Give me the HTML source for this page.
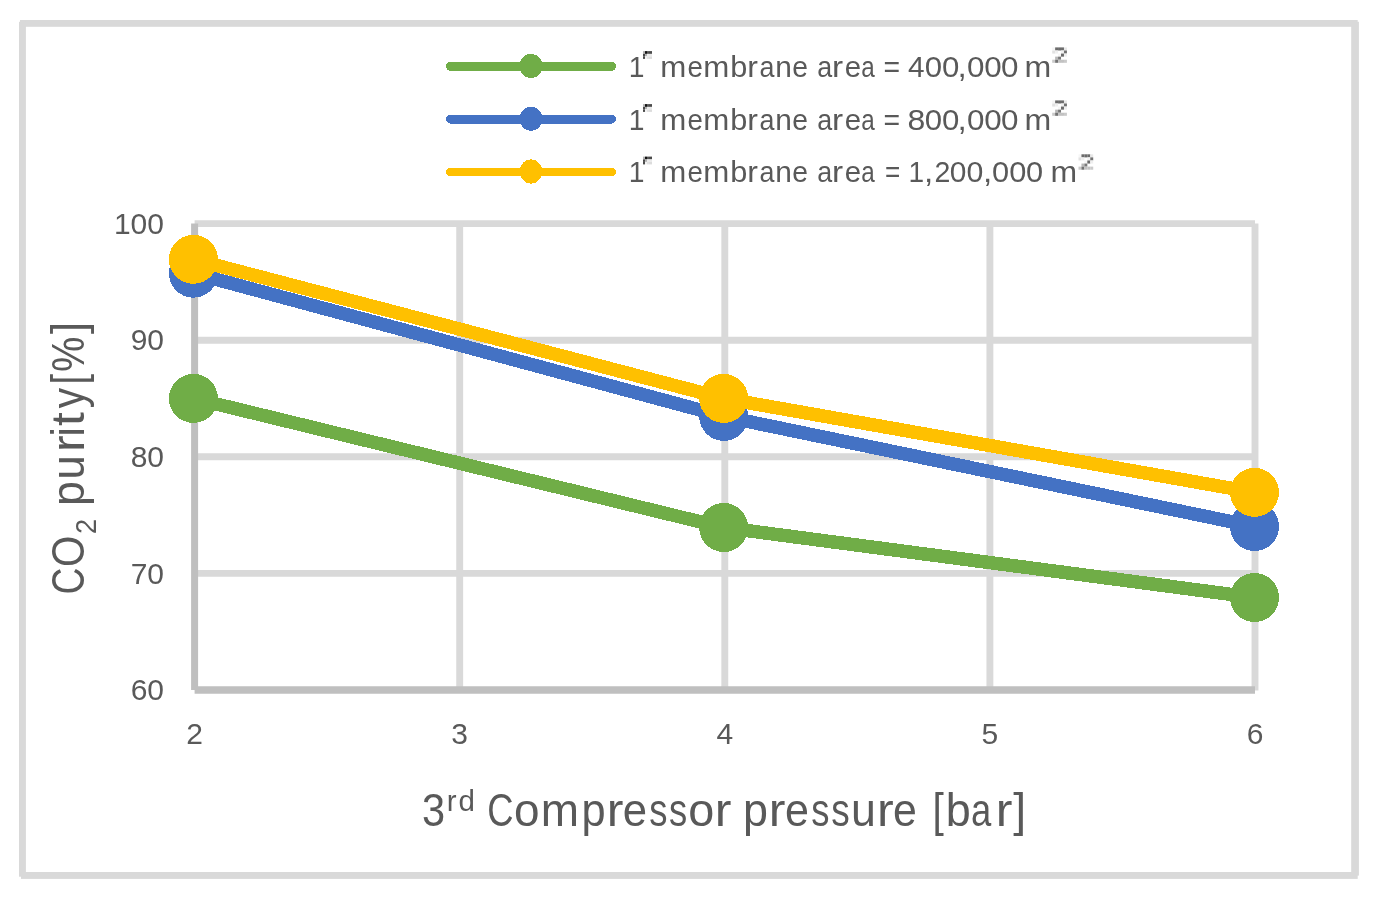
<!DOCTYPE html>
<html><head><meta charset="utf-8"><style>
html,body{margin:0;padding:0;background:#fff;width:1390px;height:899px;overflow:hidden}
svg{display:block;will-change:transform}
text{font-family:"Liberation Sans",sans-serif;fill:#595959}
.t{font-size:30px}
.lg{font-size:30.3px}
.ax{font-size:45.5px}
.rd{font-size:29.5px}
.sub{font-size:29px}
</style></head><body>
<svg width="1390" height="899" viewBox="0 0 1390 899">
<g fill="#D9D9D9"><rect x="20" y="20" width="1337.7" height="6.8"/><rect x="19" y="21.8" width="6.9" height="854.9"/><rect x="1351.2" y="21.8" width="7.7" height="853.8"/><rect x="21" y="872" width="1336.7" height="6.9"/></g>
<line x1="194.6" y1="573.4" x2="1255.0" y2="573.4" stroke="#D9D9D9" stroke-width="6.9"/>
<line x1="194.6" y1="456.8" x2="1255.0" y2="456.8" stroke="#D9D9D9" stroke-width="6.9"/>
<line x1="194.6" y1="340.2" x2="1255.0" y2="340.2" stroke="#D9D9D9" stroke-width="6.9"/>
<line x1="194.6" y1="223.6" x2="1255.0" y2="223.6" stroke="#D9D9D9" stroke-width="6.9"/>
<line x1="459.7" y1="223.6" x2="459.7" y2="690.6" stroke="#D9D9D9" stroke-width="6.9"/>
<line x1="724.8" y1="223.6" x2="724.8" y2="690.6" stroke="#D9D9D9" stroke-width="6.9"/>
<line x1="989.9" y1="223.6" x2="989.9" y2="690.6" stroke="#D9D9D9" stroke-width="6.9"/>
<line x1="1255.0" y1="223.6" x2="1255.0" y2="690.6" stroke="#D9D9D9" stroke-width="6.9"/>
<line x1="194.6" y1="223.6" x2="194.6" y2="690.0" stroke="#BFBFBF" stroke-width="7"/>
<line x1="194.6" y1="690.0" x2="1255.0" y2="690.0" stroke="#BFBFBF" stroke-width="7.5"/>
<polyline points="193.4,398.4 723.7,527.5 1254.5,597.5" fill="none" stroke="#70AD47" stroke-width="13.5" stroke-linejoin="round" shape-rendering="crispEdges"/>
<circle cx="193.4" cy="398.4" r="24.5" fill="#70AD47" shape-rendering="crispEdges"/>
<circle cx="723.7" cy="527.5" r="24.5" fill="#70AD47" shape-rendering="crispEdges"/>
<circle cx="1254.5" cy="597.5" r="24.5" fill="#70AD47" shape-rendering="crispEdges"/>
<polyline points="193.4,273.2 723.7,416.4 1254.5,526.5" fill="none" stroke="#4472C4" stroke-width="13.5" stroke-linejoin="round" shape-rendering="crispEdges"/>
<circle cx="193.4" cy="273.2" r="24.5" fill="#4472C4" shape-rendering="crispEdges"/>
<circle cx="723.7" cy="416.4" r="24.5" fill="#4472C4" shape-rendering="crispEdges"/>
<circle cx="1254.5" cy="526.5" r="24.5" fill="#4472C4" shape-rendering="crispEdges"/>
<polyline points="193.4,259.3 723.7,398.4 1254.5,492.4" fill="none" stroke="#FFC000" stroke-width="13.5" stroke-linejoin="round" shape-rendering="crispEdges"/>
<circle cx="193.4" cy="259.3" r="24.5" fill="#FFC000" shape-rendering="crispEdges"/>
<circle cx="723.7" cy="398.4" r="24.5" fill="#FFC000" shape-rendering="crispEdges"/>
<circle cx="1254.5" cy="492.4" r="24.5" fill="#FFC000" shape-rendering="crispEdges"/>
<text x="164" y="700.2" text-anchor="end" class="t">60</text>
<text x="164" y="583.6" text-anchor="end" class="t">70</text>
<text x="164" y="467.0" text-anchor="end" class="t">80</text>
<text x="164" y="350.4" text-anchor="end" class="t">90</text>
<text x="164" y="233.8" text-anchor="end" class="t">100</text>
<text x="194.6" y="744" text-anchor="middle" class="t">2</text>
<text x="459.7" y="744" text-anchor="middle" class="t">3</text>
<text x="724.8" y="744" text-anchor="middle" class="t">4</text>
<text x="989.9" y="744" text-anchor="middle" class="t">5</text>
<text x="1255.0" y="744" text-anchor="middle" class="t">6</text>
<line x1="450.4" y1="66.4" x2="611.6" y2="66.4" stroke="#70AD47" stroke-width="8.8" stroke-linecap="round" shape-rendering="crispEdges"/>
<ellipse cx="531" cy="66.0" rx="11.3" ry="12.1" fill="#70AD47" shape-rendering="crispEdges"/>
<text x="628.06" y="76.8" class="lg" transform="matrix(0.934,0,0,1,42.12,0)">1</text>
<text x="660.22" y="76.8" class="lg" transform="matrix(1.032,0,0,1,-21.21,0)">m</text><text x="687.10" y="76.8" class="lg" transform="matrix(0.914,0,0,1,59.58,0)">e</text><text x="703.42" y="76.8" class="lg" transform="matrix(1.032,0,0,1,-22.57,0)">m</text><text x="730.23" y="76.8" class="lg" transform="matrix(1.013,0,0,1,-9.43,0)">b</text><text x="747.60" y="76.8" class="lg" transform="matrix(1.056,0,0,1,-42.27,0)">r</text><text x="758.13" y="76.8" class="lg" transform="matrix(0.887,0,0,1,86.96,0)">a</text><text x="774.90" y="76.8" class="lg" transform="matrix(0.987,0,0,1,10.44,0)">n</text><text x="791.95" y="76.8" class="lg" transform="matrix(0.935,0,0,1,51.67,0)">e</text><text x="815.93" y="76.8" class="lg" transform="matrix(0.887,0,0,1,93.52,0)">a</text><text x="832.70" y="76.8" class="lg" transform="matrix(1.100,0,0,1,-83.85,0)">r</text><text x="844.20" y="76.8" class="lg" transform="matrix(0.971,0,0,1,25.06,0)">e</text><text x="859.38" y="76.8" class="lg" transform="matrix(0.800,0,0,1,173.69,0)">a</text><text x="883.46" y="76.8" class="lg" transform="matrix(0.937,0,0,1,55.82,0)">=</text><text x="908.17" y="76.8" class="lg" transform="matrix(0.982,0,0,1,16.11,0)">4</text><text x="924.72" y="76.8" class="lg" transform="matrix(1.029,0,0,1,-26.79,0)">0</text><text x="942.02" y="76.8" class="lg" transform="matrix(1.029,0,0,1,-27.28,0)">0</text><text x="957.99" y="76.8" class="lg" transform="matrix(1.100,0,0,1,-96.22,0)">,</text><text x="966.87" y="76.8" class="lg" transform="matrix(1.036,0,0,1,-34.73,0)">0</text><text x="984.17" y="76.8" class="lg" transform="matrix(1.036,0,0,1,-35.35,0)">0</text><text x="1000.87" y="76.8" class="lg" transform="matrix(1.036,0,0,1,-35.94,0)">0</text><text x="1025.12" y="76.8" class="lg" transform="matrix(1.060,0,0,1,-62.04,0)">m</text>
<rect x="643.0" y="51.1" width="2.0" height="2.8" fill="#b4b4b4"/><rect x="645.0" y="51.1" width="2.0" height="2.8" fill="#111"/><rect x="647.0" y="51.1" width="2.0" height="2.8" fill="#555"/><rect x="649.0" y="51.1" width="3.0" height="2.8" fill="#4a4a4a"/><rect x="643.0" y="53.9" width="2.0" height="2.5" fill="#484848"/><rect x="645.0" y="53.9" width="2.0" height="2.5" fill="#b0b0b0"/><rect x="647.0" y="53.9" width="2.0" height="2.5" fill="#ececec"/><rect x="649.0" y="53.9" width="3.0" height="2.5" fill="#eaeaea"/><rect x="643.0" y="56.4" width="2.0" height="2.5" fill="#4a4a4a"/><rect x="645.0" y="56.4" width="2.0" height="2.5" fill="#f2f2f2"/><rect x="647.0" y="56.4" width="2.0" height="2.5" fill="#e2e2e2"/><rect x="649.0" y="56.4" width="3.0" height="2.5" fill="#dcdcdc"/>
<rect x="1052.20" y="47.40" width="2.96" height="3.10" fill="#f6f6f6"/><rect x="1055.14" y="47.40" width="2.96" height="3.10" fill="#6c6c6c"/><rect x="1058.08" y="47.40" width="2.96" height="3.10" fill="#6c6c6c"/><rect x="1061.02" y="47.40" width="2.96" height="3.10" fill="#6c6c6c"/><rect x="1063.96" y="47.40" width="2.96" height="3.10" fill="#e8e8e8"/><rect x="1052.20" y="50.48" width="2.96" height="3.10" fill="#e2e2e2"/><rect x="1055.14" y="50.48" width="2.96" height="3.10" fill="#efefef"/><rect x="1061.02" y="50.48" width="2.96" height="3.10" fill="#f2f2f2"/><rect x="1063.96" y="50.48" width="2.96" height="3.10" fill="#727272"/><rect x="1058.08" y="53.56" width="2.96" height="3.10" fill="#f6f6f6"/><rect x="1061.02" y="53.56" width="2.96" height="3.10" fill="#6a6a6a"/><rect x="1063.96" y="53.56" width="2.96" height="3.10" fill="#efefef"/><rect x="1055.14" y="56.64" width="2.96" height="3.10" fill="#b8b8b8"/><rect x="1058.08" y="56.64" width="2.96" height="3.10" fill="#7a7a7a"/><rect x="1052.20" y="59.72" width="2.96" height="3.10" fill="#cacaca"/><rect x="1055.14" y="59.72" width="2.96" height="3.10" fill="#737373"/><rect x="1058.08" y="59.72" width="2.96" height="3.10" fill="#c2c2c2"/><rect x="1061.02" y="59.72" width="2.96" height="3.10" fill="#c2c2c2"/><rect x="1063.96" y="59.72" width="2.96" height="3.10" fill="#cacaca"/>
<line x1="450.4" y1="119.1" x2="611.6" y2="119.1" stroke="#4472C4" stroke-width="8.8" stroke-linecap="round" shape-rendering="crispEdges"/>
<ellipse cx="531" cy="118.7" rx="11.3" ry="12.1" fill="#4472C4" shape-rendering="crispEdges"/>
<text x="628.06" y="129.8" class="lg" transform="matrix(0.934,0,0,1,42.12,0)">1</text>
<text x="660.22" y="129.8" class="lg" transform="matrix(1.032,0,0,1,-21.21,0)">m</text><text x="687.10" y="129.8" class="lg" transform="matrix(0.914,0,0,1,59.58,0)">e</text><text x="703.42" y="129.8" class="lg" transform="matrix(1.032,0,0,1,-22.57,0)">m</text><text x="730.23" y="129.8" class="lg" transform="matrix(1.013,0,0,1,-9.43,0)">b</text><text x="747.60" y="129.8" class="lg" transform="matrix(1.056,0,0,1,-42.27,0)">r</text><text x="758.13" y="129.8" class="lg" transform="matrix(0.887,0,0,1,86.96,0)">a</text><text x="774.90" y="129.8" class="lg" transform="matrix(0.987,0,0,1,10.44,0)">n</text><text x="791.95" y="129.8" class="lg" transform="matrix(0.935,0,0,1,51.67,0)">e</text><text x="815.93" y="129.8" class="lg" transform="matrix(0.887,0,0,1,93.52,0)">a</text><text x="832.70" y="129.8" class="lg" transform="matrix(1.100,0,0,1,-83.85,0)">r</text><text x="844.20" y="129.8" class="lg" transform="matrix(0.971,0,0,1,25.06,0)">e</text><text x="859.38" y="129.8" class="lg" transform="matrix(0.800,0,0,1,173.69,0)">a</text><text x="883.46" y="129.8" class="lg" transform="matrix(0.937,0,0,1,55.82,0)">=</text><text x="908.07" y="129.8" class="lg" transform="matrix(1.055,0,0,1,-50.41,0)">8</text><text x="924.72" y="129.8" class="lg" transform="matrix(1.029,0,0,1,-26.79,0)">0</text><text x="942.02" y="129.8" class="lg" transform="matrix(1.029,0,0,1,-27.28,0)">0</text><text x="957.99" y="129.8" class="lg" transform="matrix(1.100,0,0,1,-96.22,0)">,</text><text x="966.87" y="129.8" class="lg" transform="matrix(1.036,0,0,1,-34.73,0)">0</text><text x="984.17" y="129.8" class="lg" transform="matrix(1.036,0,0,1,-35.35,0)">0</text><text x="1000.87" y="129.8" class="lg" transform="matrix(1.036,0,0,1,-35.94,0)">0</text><text x="1025.12" y="129.8" class="lg" transform="matrix(1.060,0,0,1,-62.04,0)">m</text>
<rect x="643.0" y="104.1" width="2.0" height="2.8" fill="#b4b4b4"/><rect x="645.0" y="104.1" width="2.0" height="2.8" fill="#111"/><rect x="647.0" y="104.1" width="2.0" height="2.8" fill="#555"/><rect x="649.0" y="104.1" width="3.0" height="2.8" fill="#4a4a4a"/><rect x="643.0" y="106.9" width="2.0" height="2.5" fill="#484848"/><rect x="645.0" y="106.9" width="2.0" height="2.5" fill="#b0b0b0"/><rect x="647.0" y="106.9" width="2.0" height="2.5" fill="#ececec"/><rect x="649.0" y="106.9" width="3.0" height="2.5" fill="#eaeaea"/><rect x="643.0" y="109.4" width="2.0" height="2.5" fill="#4a4a4a"/><rect x="645.0" y="109.4" width="2.0" height="2.5" fill="#f2f2f2"/><rect x="647.0" y="109.4" width="2.0" height="2.5" fill="#e2e2e2"/><rect x="649.0" y="109.4" width="3.0" height="2.5" fill="#dcdcdc"/>
<rect x="1052.20" y="100.40" width="2.96" height="3.10" fill="#f6f6f6"/><rect x="1055.14" y="100.40" width="2.96" height="3.10" fill="#6c6c6c"/><rect x="1058.08" y="100.40" width="2.96" height="3.10" fill="#6c6c6c"/><rect x="1061.02" y="100.40" width="2.96" height="3.10" fill="#6c6c6c"/><rect x="1063.96" y="100.40" width="2.96" height="3.10" fill="#e8e8e8"/><rect x="1052.20" y="103.48" width="2.96" height="3.10" fill="#e2e2e2"/><rect x="1055.14" y="103.48" width="2.96" height="3.10" fill="#efefef"/><rect x="1061.02" y="103.48" width="2.96" height="3.10" fill="#f2f2f2"/><rect x="1063.96" y="103.48" width="2.96" height="3.10" fill="#727272"/><rect x="1058.08" y="106.56" width="2.96" height="3.10" fill="#f6f6f6"/><rect x="1061.02" y="106.56" width="2.96" height="3.10" fill="#6a6a6a"/><rect x="1063.96" y="106.56" width="2.96" height="3.10" fill="#efefef"/><rect x="1055.14" y="109.64" width="2.96" height="3.10" fill="#b8b8b8"/><rect x="1058.08" y="109.64" width="2.96" height="3.10" fill="#7a7a7a"/><rect x="1052.20" y="112.72" width="2.96" height="3.10" fill="#cacaca"/><rect x="1055.14" y="112.72" width="2.96" height="3.10" fill="#737373"/><rect x="1058.08" y="112.72" width="2.96" height="3.10" fill="#c2c2c2"/><rect x="1061.02" y="112.72" width="2.96" height="3.10" fill="#c2c2c2"/><rect x="1063.96" y="112.72" width="2.96" height="3.10" fill="#cacaca"/>
<line x1="450.4" y1="171.9" x2="611.6" y2="171.9" stroke="#FFC000" stroke-width="8.8" stroke-linecap="round" shape-rendering="crispEdges"/>
<ellipse cx="531" cy="171.5" rx="11.3" ry="12.1" fill="#FFC000" shape-rendering="crispEdges"/>
<text x="628.06" y="182.3" class="lg" transform="matrix(0.934,0,0,1,42.12,0)">1</text>
<text x="660.22" y="182.3" class="lg" transform="matrix(1.032,0,0,1,-21.21,0)">m</text><text x="687.10" y="182.3" class="lg" transform="matrix(0.914,0,0,1,59.58,0)">e</text><text x="703.42" y="182.3" class="lg" transform="matrix(1.032,0,0,1,-22.57,0)">m</text><text x="730.23" y="182.3" class="lg" transform="matrix(1.013,0,0,1,-9.43,0)">b</text><text x="747.60" y="182.3" class="lg" transform="matrix(1.056,0,0,1,-42.27,0)">r</text><text x="758.13" y="182.3" class="lg" transform="matrix(0.887,0,0,1,86.96,0)">a</text><text x="774.90" y="182.3" class="lg" transform="matrix(0.987,0,0,1,10.44,0)">n</text><text x="791.95" y="182.3" class="lg" transform="matrix(0.935,0,0,1,51.67,0)">e</text><text x="815.93" y="182.3" class="lg" transform="matrix(0.887,0,0,1,93.52,0)">a</text><text x="832.70" y="182.3" class="lg" transform="matrix(1.100,0,0,1,-83.85,0)">r</text><text x="844.20" y="182.3" class="lg" transform="matrix(0.971,0,0,1,25.06,0)">e</text><text x="859.38" y="182.3" class="lg" transform="matrix(0.800,0,0,1,173.69,0)">a</text><text x="883.61" y="182.3" class="lg" transform="matrix(0.863,0,0,1,122.52,0)">=</text><text x="908.11" y="182.3" class="lg" transform="matrix(0.926,0,0,1,67.66,0)">1</text><text x="924.39" y="182.3" class="lg" transform="matrix(1.100,0,0,1,-92.86,0)">,</text><text x="933.87" y="182.3" class="lg" transform="matrix(0.942,0,0,1,54.86,0)">2</text><text x="949.92" y="182.3" class="lg" transform="matrix(0.987,0,0,1,12.19,0)">0</text><text x="966.57" y="182.3" class="lg">0</text><text x="983.34" y="182.3" class="lg" transform="matrix(1.100,0,0,1,-98.76,0)">,</text><text x="991.92" y="182.3" class="lg" transform="matrix(1.015,0,0,1,-14.90,0)">0</text><text x="1009.22" y="182.3" class="lg" transform="matrix(1.015,0,0,1,-15.16,0)">0</text><text x="1026.02" y="182.3" class="lg" transform="matrix(1.015,0,0,1,-15.41,0)">0</text><text x="1051.17" y="182.3" class="lg" transform="matrix(1.055,0,0,1,-58.59,0)">m</text>
<rect x="643.0" y="156.6" width="2.0" height="2.8" fill="#b4b4b4"/><rect x="645.0" y="156.6" width="2.0" height="2.8" fill="#111"/><rect x="647.0" y="156.6" width="2.0" height="2.8" fill="#555"/><rect x="649.0" y="156.6" width="3.0" height="2.8" fill="#4a4a4a"/><rect x="643.0" y="159.4" width="2.0" height="2.5" fill="#484848"/><rect x="645.0" y="159.4" width="2.0" height="2.5" fill="#b0b0b0"/><rect x="647.0" y="159.4" width="2.0" height="2.5" fill="#ececec"/><rect x="649.0" y="159.4" width="3.0" height="2.5" fill="#eaeaea"/><rect x="643.0" y="161.9" width="2.0" height="2.5" fill="#4a4a4a"/><rect x="645.0" y="161.9" width="2.0" height="2.5" fill="#f2f2f2"/><rect x="647.0" y="161.9" width="2.0" height="2.5" fill="#e2e2e2"/><rect x="649.0" y="161.9" width="3.0" height="2.5" fill="#dcdcdc"/>
<rect x="1078.50" y="154.30" width="2.96" height="3.10" fill="#f6f6f6"/><rect x="1081.44" y="154.30" width="2.96" height="3.10" fill="#6c6c6c"/><rect x="1084.38" y="154.30" width="2.96" height="3.10" fill="#6c6c6c"/><rect x="1087.32" y="154.30" width="2.96" height="3.10" fill="#6c6c6c"/><rect x="1090.26" y="154.30" width="2.96" height="3.10" fill="#e8e8e8"/><rect x="1078.50" y="157.38" width="2.96" height="3.10" fill="#e2e2e2"/><rect x="1081.44" y="157.38" width="2.96" height="3.10" fill="#efefef"/><rect x="1087.32" y="157.38" width="2.96" height="3.10" fill="#f2f2f2"/><rect x="1090.26" y="157.38" width="2.96" height="3.10" fill="#727272"/><rect x="1084.38" y="160.46" width="2.96" height="3.10" fill="#f6f6f6"/><rect x="1087.32" y="160.46" width="2.96" height="3.10" fill="#6a6a6a"/><rect x="1090.26" y="160.46" width="2.96" height="3.10" fill="#efefef"/><rect x="1081.44" y="163.54" width="2.96" height="3.10" fill="#b8b8b8"/><rect x="1084.38" y="163.54" width="2.96" height="3.10" fill="#7a7a7a"/><rect x="1078.50" y="166.62" width="2.96" height="3.10" fill="#cacaca"/><rect x="1081.44" y="166.62" width="2.96" height="3.10" fill="#737373"/><rect x="1084.38" y="166.62" width="2.96" height="3.10" fill="#c2c2c2"/><rect x="1087.32" y="166.62" width="2.96" height="3.10" fill="#c2c2c2"/><rect x="1090.26" y="166.62" width="2.96" height="3.10" fill="#cacaca"/>
<text x="420.93" y="825.7" class="ax" transform="matrix(0.913,0,0,1,37.62,0)">3</text>
<text x="446.70 458.58" y="811.0" class="rd">rd</text>
<text x="483.98" y="825.7" class="ax" transform="matrix(0.800,0,0,1,100.14,0)">C</text><text x="514.10" y="825.7" class="ax" transform="matrix(1.010,0,0,1,-5.30,0)">o</text><text x="541.04" y="825.7" class="ax" transform="matrix(1.010,0,0,1,-5.60,0)">m</text><text x="580.79" y="825.7" class="ax" transform="matrix(0.953,0,0,1,27.91,0)">p</text><text x="607.69" y="825.7" class="ax" transform="matrix(1.100,0,0,1,-61.64,0)">r</text><text x="622.24" y="825.7" class="ax" transform="matrix(0.960,0,0,1,25.28,0)">e</text><text x="646.91" y="825.7" class="ax" transform="matrix(0.800,0,0,1,131.62,0)">s</text><text x="666.71" y="825.7" class="ax" transform="matrix(0.800,0,0,1,135.58,0)">s</text><text x="688.40" y="825.7" class="ax" transform="matrix(1.029,0,0,1,-20.11,0)">o</text><text x="715.74" y="825.7" class="ax" transform="matrix(1.100,0,0,1,-72.45,0)">r</text><text x="742.94" y="825.7" class="ax" transform="matrix(0.987,0,0,1,9.67,0)">p</text><text x="769.69" y="825.7" class="ax" transform="matrix(1.100,0,0,1,-77.84,0)">r</text><text x="784.49" y="825.7" class="ax" transform="matrix(0.946,0,0,1,42.95,0)">e</text><text x="808.96" y="825.7" class="ax" transform="matrix(0.800,0,0,1,164.03,0)">s</text><text x="828.86" y="825.7" class="ax" transform="matrix(0.812,0,0,1,158.34,0)">s</text><text x="850.68" y="825.7" class="ax" transform="matrix(0.983,0,0,1,14.68,0)">u</text><text x="877.94" y="825.7" class="ax" transform="matrix(1.100,0,0,1,-88.67,0)">r</text><text x="892.74" y="825.7" class="ax" transform="matrix(0.941,0,0,1,53.02,0)">e</text><text x="931.39" y="825.7" class="ax" transform="matrix(0.896,0,0,1,97.86,0)">[</text><text x="945.84" y="825.7" class="ax" transform="matrix(0.987,0,0,1,12.26,0)">b</text><text x="968.38" y="825.7" class="ax" transform="matrix(0.800,0,0,1,196.40,0)">a</text><text x="996.64" y="825.7" class="ax" transform="matrix(1.100,0,0,1,-100.54,0)">r</text><text x="1013.72" y="825.7" class="ax" transform="matrix(1.017,0,0,1,-17.77,0)">]</text>
<g transform="translate(83.8,594) rotate(-90)"><text x="-3.47" y="0.0" class="ax" transform="matrix(0.816,0,0,1,2.44,0)">C</text><text x="25.07" y="0.0" class="ax" transform="matrix(0.885,0,0,1,4.90,0)">O</text><text x="59.69" y="12.0" class="sub" transform="matrix(0.946,0,0,1,3.65,0)">2</text><text x="87.94" y="0.0" class="ax" transform="matrix(0.987,0,0,1,1.29,0)">p</text><text x="113.93" y="0.0" class="ax" transform="matrix(0.957,0,0,1,5.43,0)">u</text><text x="142.84" y="0.0" class="ax" transform="matrix(1.100,0,0,1,-15.16,0)">r</text><text x="157.06" y="0.0" class="ax" transform="matrix(0.950,0,0,1,8.07,0)">i</text><text x="168.70" y="0.0" class="ax" transform="matrix(1.100,0,0,1,-17.52,0)">t</text><text x="184.51" y="0.0" class="ax" transform="matrix(0.896,0,0,1,20.42,0)">y</text><text x="208.29" y="0.0" class="ax" transform="matrix(0.829,0,0,1,36.85,0)">[</text><text x="219.42" y="0.0" class="ax" transform="matrix(0.873,0,0,1,30.35,0)">%</text><text x="259.77" y="0.0" class="ax" transform="matrix(0.962,0,0,1,10.02,0)">]</text></g>
</svg>
</body></html>
